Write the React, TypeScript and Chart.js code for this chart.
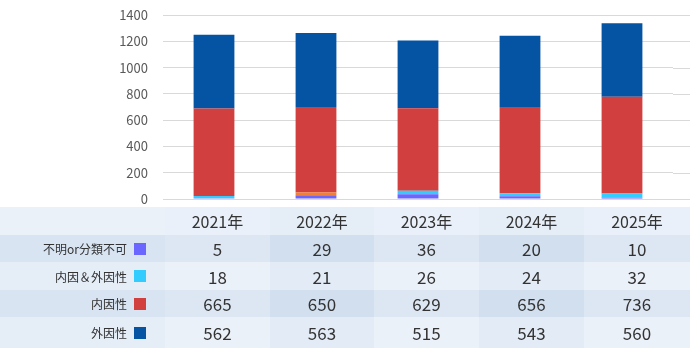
import React, { useEffect, useRef } from "react";
import { Chart, registerables } from "chart.js";

Chart.register(...registerables);

const years = ["2021年", "2022年", "2023年", "2024年", "2025年"];
const seriesNames = ["不明or分類不可", "内因＆外因性", "内因性", "外因性"];
const unknownVals = [5, 29, 36, 20, 10];
const mixedVals = [18, 21, 26, 24, 32];
const internalVals = [665, 650, 629, 656, 736];
const externalVals = [562, 563, 515, 543, 560];
const seriesColors = ["#6b66ff", "#33ccff", "#d13f3f", "#0553a3"];
const mixedBarColors = ["#33ccff", "#f47f2f", "#33ccff", "#33ccff", "#33ccff"];
const yMin = 0;
const yMax = 1400;
const yStep = 200;

const FONT = "'Noto Sans CJK JP', 'Noto Sans', sans-serif";

const colWidths = [165, 105, 104, 105, 105, 106];
const rowHeights = [28, 27, 28, 27, 31];
const bgHeader = ["#eaf1f9", "#e9f0f9", "#e5edf7", "#e9f0f9", "#e5edf7", "#e9f0f9"];
const bgDark = ["#d8e4f2", "#dde7f3", "#d1dfef", "#dde7f3", "#d1dfef", "#dde7f3"];
const bgLight = ["#e5edf7", "#ebf1f9", "#e3ebf6", "#ebf1f9", "#e3ebf6", "#ebf1f9"];

const extendGrid = {
  id: "extendGrid",
  beforeDatasetsDraw(chart: any) {
    const { ctx, chartArea, scales } = chart;
    const y = scales.y;
    ctx.save();
    ctx.strokeStyle = "#d9d9d9";
    ctx.lineWidth = 1;
    y.ticks.forEach((t: any) => {
      const py = Math.round(y.getPixelForValue(t.value)) + 0.5;
      ctx.beginPath();
      ctx.moveTo(chartArea.right, py);
      ctx.lineTo(chart.width, py);
      ctx.stroke();
    });
    ctx.restore();
  },
};

export default function App() {
  const ref = useRef<HTMLCanvasElement | null>(null);
  useEffect(() => {
    if (!ref.current) return;
    Chart.defaults.font.family = FONT;
    const chart = new Chart(ref.current, {
      type: "bar",
      data: {
        labels: years,
        datasets: [
          { label: seriesNames[0], data: unknownVals, backgroundColor: seriesColors[0] },
          { label: seriesNames[1], data: mixedVals, backgroundColor: mixedBarColors },
          { label: seriesNames[2], data: internalVals, backgroundColor: seriesColors[2] },
          { label: seriesNames[3], data: externalVals, backgroundColor: seriesColors[3] },
        ],
      },
      options: {
        responsive: false,
        animation: false,
        maintainAspectRatio: false,
        layout: { padding: { left: 0, right: 17, top: 15, bottom: 23 } },
        datasets: { bar: { categoryPercentage: 1, barPercentage: 0.4 } },
        plugins: { legend: { display: false }, tooltip: { enabled: false } },
        scales: {
          x: { stacked: true, display: false },
          y: {
            stacked: true,
            min: yMin,
            max: yMax,
            ticks: {
              stepSize: yStep,
              color: "#595959",
              font: { size: 13, family: FONT },
              padding: 15,
              callback: (v: any) => String(v),
            },
            grid: { color: "#d9d9d9", drawTicks: false },
            border: { display: false },
            afterFit(scale: any) {
              scale.width = 163;
              scale.paddingTop = 0;
              scale.paddingBottom = 0;
            },
          },
        },
      } as any,
      plugins: [extendGrid],
    });
    return () => chart.destroy();
  }, []);

  const rows = [
    { name: seriesNames[0], color: seriesColors[0], vals: unknownVals },
    { name: seriesNames[1], color: seriesColors[1], vals: mixedVals },
    { name: seriesNames[2], color: seriesColors[2], vals: internalVals },
    { name: seriesNames[3], color: seriesColors[3], vals: externalVals },
  ];

  const cell = (w: number, h: number, bg: string, extra: any = {}) => ({
    width: w,
    height: h,
    background: bg,
    display: "flex",
    alignItems: "center",
    justifyContent: "center",
    boxSizing: "border-box" as const,
    ...extra,
  });

  return (
    <div style={{ position: "absolute", left: 0, top: 0, width: 690, height: 348, background: "#fff", overflow: "hidden", fontFamily: FONT, color: "#333" }}>
      <canvas ref={ref} width={690} height={222} style={{ position: "absolute", left: 0, top: 0, width: 690, height: 222 }} />
      <div style={{ position: "absolute", left: 0, top: 207, width: 690 }}>
        <div style={{ display: "flex" }}>
          {colWidths.map((w, i) => (
            <div key={i} style={cell(w, rowHeights[0], bgHeader[i], { fontSize: 16 })}>
              {i === 0 ? "" : years[i - 1]}
            </div>
          ))}
        </div>
        {rows.map((r, ri) => {
          const bgs = ri % 2 === 0 ? bgDark : bgLight;
          return (
            <div key={ri} style={{ display: "flex" }}>
              <div style={cell(colWidths[0], rowHeights[ri + 1], bgs[0], { justifyContent: "flex-end", paddingRight: 19, fontSize: 12 })}>
                <span>{r.name}</span>
                <span style={{ display: "inline-block", width: 12, height: 12, background: r.color, marginLeft: 7 }} />
              </div>
              {r.vals.map((v, vi) => (
                <div key={vi} style={cell(colWidths[vi + 1], rowHeights[ri + 1], bgs[vi + 1], { fontSize: 17 })}>
                  {v}
                </div>
              ))}
            </div>
          );
        })}
      </div>
    </div>
  );
}
